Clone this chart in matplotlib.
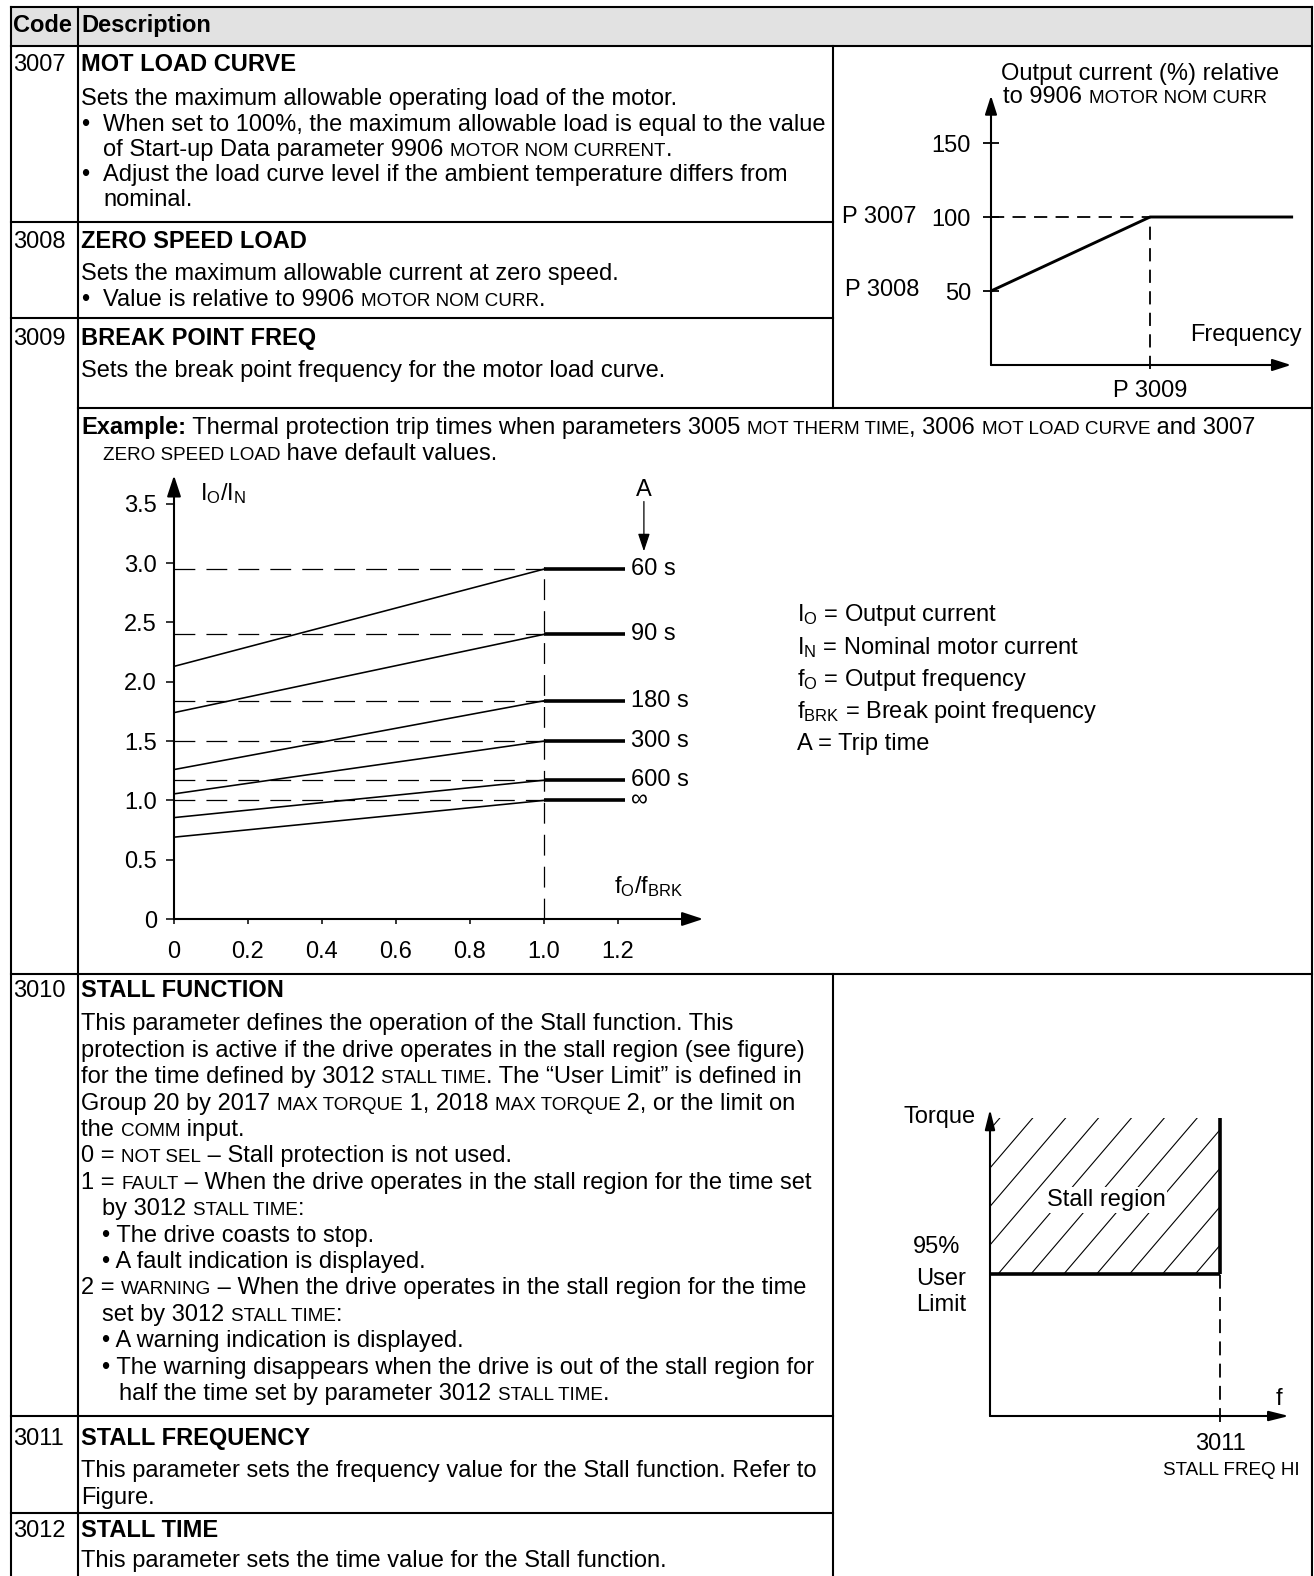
import re

import numpy as np
import matplotlib
matplotlib.use('Agg')
from matplotlib import pyplot as plt
from matplotlib.patches import Rectangle

plt.rcParams['font.family'] = ['Liberation Sans', 'DejaVu Sans']
plt.rcParams['mathtext.fontset'] = 'custom'
plt.rcParams['mathtext.rm'] = 'Liberation Sans'
plt.rcParams['mathtext.it'] = 'Liberation Sans:italic'
plt.rcParams['lines.scale_dashes'] = False

W, H = 1314, 1576
FS = 17.0           # body text (pt)
SC = FS * 0.8       # small caps words
HALF_CAP = 0.716 * FS * 100 / 72 / 2

# motor load curve (P 3009 = 1.0 on the frequency axis)
load_freq = [0.0, 1.0, 1.9]
load_curr = [50, 100, 100]
load_yticks = [50, 100, 150]

# thermal protection trip times, I_O/I_N at f_O/f_BRK = 0 and = 1.0
trip_labels = ['60 s', '90 s', '180 s', '300 s', '600 s', '\u221e']
trip_at_zero = [2.13, 1.74, 1.26, 1.055, 0.855, 0.69]
trip_at_break = [2.95, 2.40, 1.84, 1.50, 1.17, 1.00]
trip_xticks = [0, 0.2, 0.4, 0.6, 0.8, 1.0, 1.2]
trip_xlabels = ['0', '0.2', '0.4', '0.6', '0.8', '1.0', '1.2']
trip_yticks = [0, 0.5, 1.0, 1.5, 2.0, 2.5, 3.0, 3.5]
trip_ylabels = ['0', '0.5', '1.0', '1.5', '2.0', '2.5', '3.0', '3.5']
legend_items = [r'I$_\mathrm{O}$ = Output current',
                r'I$_\mathrm{N}$ = Nominal motor current',
                r'f$_\mathrm{O}$ = Output frequency',
                r'f$_\mathrm{BRK}$ = Break point frequency',
                'A = Trip time']

# stall region (user limit = 1, stall frequency = 1)
user_limit = 1.0
stall_top = 2.1
stall_freq = 1.0

# table text: *bold*, {small caps}, \t = hanging indent
rows = [
    ('3007', 'MOT LOAD CURVE', 63, 97, 25.25, [
        (81, 'Sets the maximum allowable operating load of the motor.'),
        (81, '\u2022\tWhen set to 100%, the maximum allowable load is equal to the value'),
        (103, 'of Start-up Data parameter 9906 {MOTOR NOM CURRENT}.'),
        (81, '\u2022\tAdjust the load curve level if the ambient temperature differs from'),
        (103, 'nominal.')]),
    ('3008', 'ZERO SPEED LOAD', 240, 272, 25.5, [
        (81, 'Sets the maximum allowable current at zero speed.'),
        (81, '\u2022\tValue is relative to 9906 {MOTOR NOM CURR}.')]),
    ('3009', 'BREAK POINT FREQ', 337, 369, 25, [
        (81, 'Sets the break point frequency for the motor load curve.')]),
    ('', '', 0, 426, 26, [
        (81, '*Example:* Thermal protection trip times when parameters 3005 {MOT THERM TIME}, '
             '3006 {MOT LOAD CURVE} and 3007'),
        (103, '{ZERO SPEED LOAD} have default values.')]),
    ('3010', 'STALL FUNCTION', 989, 1022, 26.4, [
        (81, 'This parameter defines the operation of the Stall function. This'),
        (81, 'protection is active if the drive operates in the stall region (see figure)'),
        (81, 'for the time defined by 3012 {STALL TIME}. The \u201cUser Limit\u201d is defined in'),
        (81, 'Group 20 by 2017 {MAX TORQUE} 1, 2018 {MAX TORQUE} 2, or the limit on'),
        (81, 'the {COMM} input.'),
        (81, '0 = {NOT SEL} \u2013 Stall protection is not used.'),
        (81, '1 = {FAULT} \u2013 When the drive operates in the stall region for the time set'),
        (102, 'by 3012 {STALL TIME}:'),
        (102, '\u2022 The drive coasts to stop.'),
        (102, '\u2022 A fault indication is displayed.'),
        (81, '2 = {WARNING} \u2013 When the drive operates in the stall region for the time'),
        (102, 'set by 3012 {STALL TIME}:'),
        (102, '\u2022 A warning indication is displayed.'),
        (102, '\u2022 The warning disappears when the drive is out of the stall region for'),
        (119, 'half the time set by parameter 3012 {STALL TIME}.')]),
    ('3011', 'STALL FREQUENCY', 1437, 1469, 27, [
        (81, 'This parameter sets the frequency value for the Stall function. Refer to'),
        (81, 'Figure.')]),
    ('3012', 'STALL TIME', 1529, 1559, 26, [
        (81, 'This parameter sets the time value for the Stall function.')]),
]

fig = plt.figure(figsize=(W / 100, H / 100), dpi=100)
page = fig.add_axes([0, 0, 1, 1])
page.set_xlim(0, W)
page.set_ylim(H, 0)
page.axis('off')
R = fig.canvas.get_renderer()


def advance(s, size, weight):
    t1 = page.text(0, 0, '|' + s + '|', fontsize=size, fontweight=weight)
    t2 = page.text(0, 0, '||', fontsize=size, fontweight=weight)
    w = t1.get_window_extent(R).width - t2.get_window_extent(R).width
    t1.remove()
    t2.remove()
    return w


def rich(x, yc, markup, size=FS):
    y = yc + HALF_CAP
    for seg_i, seg in enumerate(markup.split('\t')):
        if seg_i > 0:
            x = 103
        for p in re.split(r'(\*[^*]+\*|\{[^}]+\})', seg):
            if not p:
                continue
            if p.startswith('*'):
                s, sz, wt = p[1:-1], size, 'bold'
            elif p.startswith('{'):
                s, sz, wt = p[1:-1], size * 0.8, 'normal'
            else:
                s, sz, wt = p, size, 'normal'
            page.text(x, y, s, fontsize=sz, fontweight=wt, va='baseline', ha='left')
            x += advance(s, sz, wt)


# ---- table frame
page.add_patch(Rectangle((11, 7), 1301, 39, fc='#e2e2e2', ec='none'))
LW = 1.5
for y, x0, x1 in [(7, 11, 1312), (46, 11, 1312), (222, 11, 833), (318, 11, 833),
                  (408, 78, 1312), (974, 11, 1312), (1416, 11, 833), (1513, 11, 833)]:
    page.plot([x0, x1], [y, y], color='k', lw=LW, solid_capstyle='projecting')
for x, y0, y1 in [(11, 7, 1576), (78, 7, 1576), (1312, 7, 1576),
                  (833, 46, 408), (833, 974, 1576)]:
    page.plot([x, x], [y0, y1], color='k', lw=LW, solid_capstyle='projecting')

rich(13, 23.5, '*Code*')
rich(81, 23.5, '*Description*')
for code, title, yh, y0, step, lines in rows:
    if code:
        rich(13, yh, code)
        rich(81, yh, '*' + title + '*')
    for k, (x, txt) in enumerate(lines):
        rich(x, y0 + k * step, txt)


def chart_axes(ox, oy, sx, sy, xlim, ylim):
    left, right = ox + xlim[0] * sx, ox + xlim[1] * sx
    bottom, top = oy - ylim[0] * sy, oy - ylim[1] * sy
    ax = fig.add_axes([left / W, 1 - bottom / H, (right - left) / W, (bottom - top) / H])
    ax.set_xlim(*xlim)
    ax.set_ylim(*ylim)
    ax.set_facecolor('none')
    for side in ('top', 'right', 'left', 'bottom'):
        ax.spines[side].set_visible(False)
    ax.spines['left'].set_position(('data', 0))
    ax.spines['bottom'].set_position(('data', 0))
    ax.set_xticks([])
    ax.set_yticks([])
    return ax


def axis_arrow(ax, start, end, lw=1.5, hl=0.75, hw=0.24, ms=15):
    ax.annotate('', xy=end, xytext=start, annotation_clip=False,
                arrowprops=dict(arrowstyle=f'-|>,head_length={hl},head_width={hw}',
                                mutation_scale=ms, lw=lw, color='k',
                                shrinkA=0, shrinkB=0))


# ---- motor load curve chart
ml = chart_axes(991, 365, 159, 1.48, (-1.0, 2.0), (-20, 200))
axis_arrow(ml, (0, 0), (1.887, 0))
axis_arrow(ml, (0, 0), (0, 182))
ml.plot(load_freq, load_curr, color='k', lw=2.1, solid_capstyle='butt')
ml.plot([0, load_freq[1]], [load_curr[1]] * 2, color='k', lw=1.3, ls=(0, (9.5, 6)))
ml.plot([load_freq[1]] * 2, [-3, load_curr[1]], color='k', lw=1.3, ls=(0, (9.5, 6)))
ml.set_yticks(load_yticks, labels=[str(v) for v in load_yticks])
ml.set_xticks([load_freq[1]], labels=['P 3009'])
ml.tick_params(axis='y', direction='inout', length=11.5, width=1.3, pad=8.6, labelsize=FS)
ml.tick_params(axis='x', direction='out', length=0, width=1.3, pad=10.5, labelsize=FS)
page.text(1140, 72 + HALF_CAP, 'Output current (%) relative', fontsize=FS, ha='center', va='baseline')
rich(1003, 95, 'to 9906 {MOTOR NOM CURR}')
page.text(917, 215 + HALF_CAP, 'P 3007', fontsize=FS, ha='right', va='baseline')
page.text(919, 288 + HALF_CAP, 'P 3008', fontsize=FS, ha='right', va='baseline')
page.text(1190, 333 + HALF_CAP, 'Frequency', fontsize=FS, ha='left', va='baseline')

# ---- thermal trip time chart
th = chart_axes(174, 919, 370, 118.6, (-0.4, 1.5), (-0.4, 3.9))
axis_arrow(th, (0, 0), (1.43, 0), hl=0.85, hw=0.28)
axis_arrow(th, (0, 0), (0, 3.74), hl=0.85, hw=0.28)
for lab, y0, y1 in zip(trip_labels, trip_at_zero, trip_at_break):
    th.plot([0, 1.0], [y0, y1], color='k', lw=1.15)
    th.plot([1.0, 1.22], [y1, y1], color='k', lw=2.6, solid_capstyle='butt')
    th.plot([0, 1.0], [y1, y1], color='k', lw=0.9, ls=(0, (15, 8)))
    th.text(1.235, y1, lab, fontsize=FS, ha='left', va='center')
th.plot([1.0, 1.0], [0, max(trip_at_break) + 0.02], color='k', lw=0.9, ls=(0, (15, 8)))
th.set_xticks(trip_xticks, labels=trip_xlabels)
th.set_yticks(trip_yticks, labels=trip_ylabels)
th.tick_params(axis='x', direction='out', length=3.6, width=1.1, pad=12, labelsize=FS)
th.tick_params(axis='y', direction='out', length=5.8, width=1.1, pad=6.5, labelsize=FS)
th.annotate('', xy=(1.27, 3.1), xytext=(1.27, 3.52),
            arrowprops=dict(arrowstyle='-|>,head_length=0.9,head_width=0.3', mutation_scale=12,
                            lw=0.9, color='k', shrinkA=0, shrinkB=0))
th.text(1.27, 3.62, 'A', fontsize=FS, ha='center', va='center')
th.text(0.07, 3.59, r'I$_\mathrm{O}$/I$_\mathrm{N}$', fontsize=FS, ha='left', va='center')
th.text(1.19, 0.27, r'f$_\mathrm{O}$/f$_\mathrm{BRK}$', fontsize=FS, ha='left', va='center')
for k, item in enumerate(legend_items):
    page.text(797, 613 + 32.2 * k + HALF_CAP, item, fontsize=FS, ha='left', va='baseline')

# ---- stall region chart
st = chart_axes(990, 1416, 230, 142, (-0.6, 1.4), (-0.4, 2.3))
axis_arrow(st, (0, 0), (1.3, 0), lw=1.5, hl=0.8, hw=0.2)
axis_arrow(st, (0, 0), (0, 2.16), lw=1.5, hl=0.8, hw=0.2)
region = Rectangle((0, user_limit), stall_freq, stall_top - user_limit, fc='none', ec='none')
st.add_patch(region)
rise = 1.895
for x0 in np.arange(0.035 - 6 * 0.143, stall_freq, 0.143):
    ln, = st.plot([x0, x0 + (stall_top - user_limit) / rise], [user_limit, stall_top],
                  color='k', lw=0.8)
    ln.set_clip_path(region)
st.plot([0, stall_freq], [user_limit, user_limit], color='k', lw=2.6, solid_capstyle='butt')
st.plot([stall_freq, stall_freq], [user_limit, stall_top], color='k', lw=2.6, solid_capstyle='butt')
st.plot([stall_freq, stall_freq], [-0.04, user_limit], color='k', lw=1.3, ls=(0, (10, 6)))
st.text(0.504, 1.52, 'Stall region', fontsize=FS, ha='center', va='center', zorder=5,
        bbox=dict(fc='white', ec='none', pad=1.5))
st.set_xticks([stall_freq], labels=['3011'])
st.tick_params(axis='x', direction='out', length=0, pad=12, labelsize=FS)
page.text(976, 1115 + HALF_CAP, 'Torque', fontsize=FS, ha='right', va='baseline')
page.text(937, 1245 + HALF_CAP, '95%', fontsize=FS, ha='center', va='baseline')
page.text(941, 1277 + HALF_CAP, 'User', fontsize=FS, ha='center', va='baseline')
page.text(941, 1303 + HALF_CAP, 'Limit', fontsize=FS, ha='center', va='baseline')
page.text(1276, 1397 + HALF_CAP, 'f', fontsize=FS, ha='left', va='baseline')
page.text(1231, 1468 + HALF_CAP * 0.8, 'STALL FREQ HI', fontsize=SC, ha='center', va='baseline')

fig.savefig('out.png', dpi=100)
